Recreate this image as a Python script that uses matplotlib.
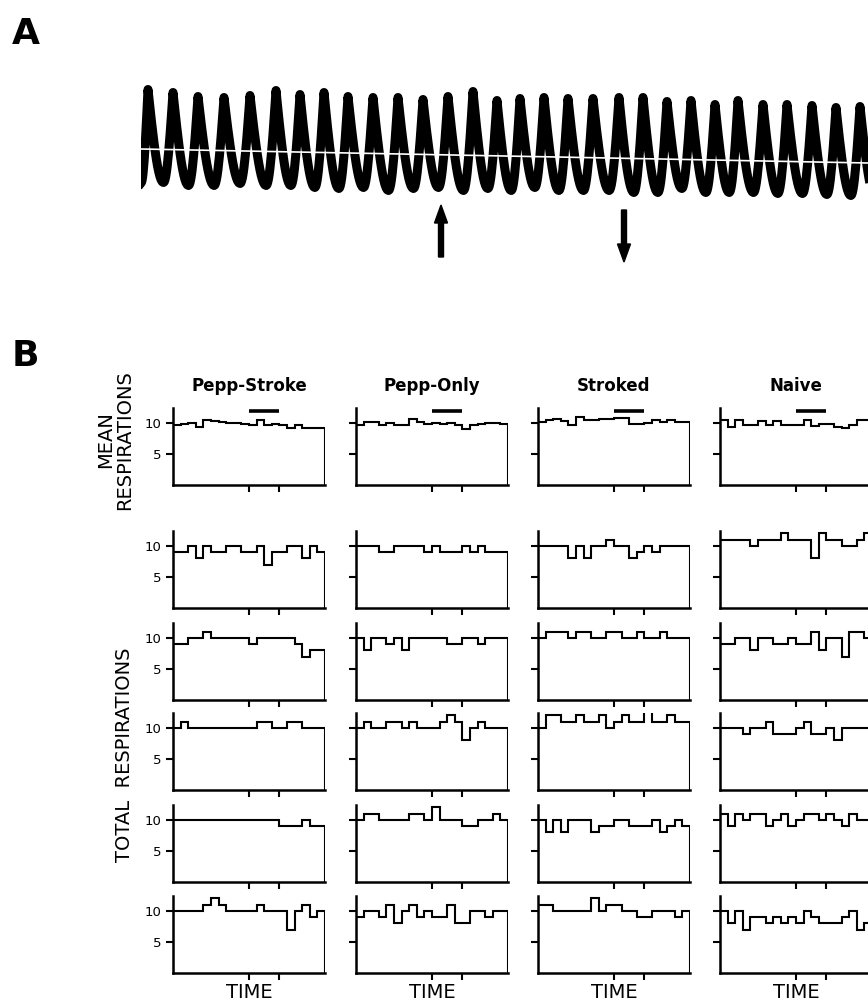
import numpy as np
import matplotlib.pyplot as plt
from matplotlib.patches import FancyArrow

# ---- panel B data: respirations per time bin (20 bins), stimulus in bins 10-14
groups = ['Pepp-Stroke', 'Pepp-Only', 'Stroked', 'Naive']
stim_on, stim_off = 10, 14

pepp_stroke_mean = [9.6, 9.8, 10.0, 9.4, 10.4, 10.3, 10.1, 10.0, 10.0, 9.9,
                    9.7, 10.4, 9.6, 9.8, 9.6, 9.2, 9.7, 9.1, 9.1, 9.1]
pepp_only_mean = [9.7, 10.2, 10.2, 9.6, 10.0, 9.6, 9.6, 10.6, 10.1, 9.8,
                  10.0, 9.8, 10.0, 9.6, 9.0, 9.6, 9.8, 10.0, 10.0, 9.8]
stroked_mean = [10.1, 10.4, 10.7, 10.3, 9.7, 10.9, 10.4, 10.5, 10.6, 10.6,
                10.8, 10.8, 9.8, 9.8, 10.0, 10.4, 10.2, 10.4, 10.1, 10.1]
naive_mean = [10.4, 9.3, 10.4, 9.6, 9.6, 10.3, 9.6, 10.3, 9.6, 9.6,
              9.6, 10.4, 9.5, 9.8, 9.8, 9.4, 9.1, 9.6, 10.4, 10.4]

pepp_stroke_total = [
    [9, 9, 10, 8, 10, 9, 9, 10, 10, 9, 9, 10, 7, 9, 9, 10, 10, 8, 10, 9],
    [9, 9, 10, 10, 11, 10, 10, 10, 10, 10, 9, 10, 10, 10, 10, 10, 9, 7, 8, 8],
    [10, 11, 10, 10, 10, 10, 10, 10, 10, 10, 10, 11, 11, 10, 10, 11, 11, 10, 10, 10],
    [10, 10, 10, 10, 10, 10, 10, 10, 10, 10, 10, 10, 10, 10, 9, 9, 9, 10, 9, 9],
    [10, 10, 10, 10, 11, 12, 11, 10, 10, 10, 10, 11, 10, 10, 10, 7, 10, 11, 9, 10],
]
pepp_only_total = [
    [10, 10, 10, 9, 9, 10, 10, 10, 10, 9, 10, 9, 9, 9, 10, 9, 10, 9, 9, 9],
    [10, 8, 10, 10, 9, 10, 8, 10, 10, 10, 10, 10, 9, 9, 10, 10, 9, 10, 10, 10],
    [10, 11, 10, 10, 11, 11, 10, 11, 10, 10, 10, 11, 12, 11, 8, 10, 11, 10, 10, 10],
    [10, 11, 11, 10, 10, 10, 10, 11, 11, 10, 12, 10, 10, 10, 9, 9, 10, 10, 11, 10],
    [9, 10, 10, 9, 11, 8, 10, 11, 9, 10, 9, 9, 11, 8, 8, 10, 10, 9, 10, 10],
]
stroked_total = [
    [10, 10, 10, 10, 8, 10, 8, 10, 10, 11, 10, 10, 8, 9, 10, 9, 10, 10, 10, 10],
    [10, 11, 11, 11, 10, 11, 11, 10, 10, 11, 11, 10, 10, 11, 10, 10, 11, 10, 10, 10],
    [10, 12, 12, 11, 11, 12, 11, 11, 12, 10, 11, 12, 11, 11, 13, 11, 11, 12, 11, 11],
    [10, 8, 10, 8, 10, 10, 10, 8, 9, 9, 10, 10, 9, 9, 9, 10, 8, 9, 10, 9],
    [11, 11, 10, 10, 10, 10, 10, 12, 10, 11, 11, 10, 10, 9, 9, 10, 10, 10, 9, 10],
]
naive_total = [
    [11, 11, 11, 11, 10, 11, 11, 11, 12, 11, 11, 11, 8, 12, 11, 11, 10, 10, 11, 12],
    [9, 9, 10, 10, 8, 10, 10, 9, 9, 10, 9, 9, 11, 8, 10, 10, 7, 11, 11, 10],
    [10, 10, 10, 9, 10, 10, 11, 9, 9, 9, 10, 11, 9, 9, 10, 8, 10, 10, 10, 10],
    [11, 9, 11, 10, 11, 11, 9, 10, 11, 9, 10, 11, 11, 10, 11, 10, 9, 11, 10, 10],
    [10, 8, 10, 7, 9, 9, 8, 9, 8, 9, 8, 10, 9, 8, 8, 8, 9, 10, 7, 8],
]

mean_cols = [pepp_stroke_mean, pepp_only_mean, stroked_mean, naive_mean]
total_cols = [pepp_stroke_total, pepp_only_total, stroked_total, naive_total]

# ---- panel A data: respiration trace (time and level in trace units)
peak_t = [7, 32, 57, 83, 109, 135, 159, 183, 207, 232, 257, 282, 307, 332, 356,
          379, 403, 427, 452, 478, 502, 526, 550, 574, 597, 622, 646, 671, 695, 719]
peak_level = [115, 112, 108, 107, 109, 114, 110, 112, 108, 107, 107, 105, 108, 113, 104,
              106, 107, 106, 106, 107, 107, 103, 104, 100, 104, 100, 100, 99, 97, 98]
trough_level = [13, 10, 10, 12, 10, 10, 8, 7, 8, 5, 7, 8, 5, 7, 5,
                8, 5, 5, 5, 3, 3, 7, 3, 3, 3, 2, 2, 1, 0, 0]
start_level = 17
baseline_level = [51, 37]
arrow_up_t, arrow_down_t = 300, 483

W, H = 868, 1002
fig = plt.figure(figsize=(W / 100, H / 100), dpi=100)


def box(left, top, width, height):
    return [left / W, 1 - (top + height) / H, width / W, height / H]


# ---------- panel A
axA = fig.add_axes(box(141, 70, 727, 205))
axA.set_xlim(0, 727)
axA.set_ylim(-75, 130)
axA.axis('off')

half = 4.5
ts, ys = [0.0], [float(start_level)]
for i in range(len(peak_t)):
    t0, y0 = ts[-1], ys[-1]
    t1, y1 = peak_t[i], peak_level[i] - half
    s = np.linspace(0, 1, 14)[1:]
    ts += list(t0 + (t1 - t0) * s)
    ys += list(y0 + (y1 - y0) * (1 - np.cos(np.pi * s / 2)))
    if i + 1 < len(peak_t):
        t2 = peak_t[i] + 0.62 * (peak_t[i + 1] - peak_t[i])
    else:
        t2 = peak_t[i] + 15
    y2 = trough_level[i] + half
    ts += list(t1 + (t2 - t1) * s)
    ys += list(y1 + (y2 - y1) * np.sin(np.pi * s / 2))
axA.plot(ts, ys, color='k', lw=6.5, solid_joinstyle='round')
axA.plot([0, 727], baseline_level, color='white', lw=1.2)

axA.add_patch(FancyArrow(arrow_up_t, -57, 0, 52, width=5, head_width=13,
                         head_length=18, length_includes_head=True, color='k'))
axA.add_patch(FancyArrow(arrow_down_t, -10, 0, -52, width=5, head_width=13,
                         head_length=18, length_includes_head=True, color='k'))

fig.text(12 / W, 1 - 44 / H, 'A', fontsize=26, fontweight='bold', va='baseline')
fig.text(12 / W, 1 - 366 / H, 'B', fontsize=26, fontweight='bold', va='baseline')

# ---------- panel B
col_left = [173, 356, 538, 720]
row_top = [408, 531, 623, 713, 805, 896]
ax_w, ax_h = 152, 77
edges = np.arange(len(pepp_stroke_mean) + 1)

for c in range(4):
    series = [mean_cols[c]] + total_cols[c]
    for r in range(6):
        ax = fig.add_axes(box(col_left[c], row_top[r], ax_w, ax_h))
        ax.stairs(series[r], edges, baseline=0, color='k', lw=1.5)
        ax.set_xlim(0, 20)
        ax.set_ylim(0, 12.4)
        for side in ['top', 'right']:
            ax.spines[side].set_visible(False)
        for side in ['left', 'bottom']:
            ax.spines[side].set_linewidth(1.8)
        ax.set_xticks([stim_on, stim_off])
        ax.set_xticklabels([])
        ax.set_yticks([5, 10])
        ax.tick_params(direction='out', length=5, width=1.5, pad=3, labelsize=9.5)
        if c > 0:
            ax.set_yticklabels([])
        if r == 0:
            ax.plot([stim_on, stim_off], [11.9, 11.9], color='k', lw=2.6,
                    solid_capstyle='butt', clip_on=False)
    cx = (col_left[c] + ax_w / 2) / W
    fig.text(cx, 1 - 391 / H, groups[c], ha='center', va='baseline',
             fontsize=12, fontweight='bold')
    fig.text(cx, 1 - 998 / H, 'TIME', ha='center', va='baseline', fontsize=14)

fig.text(115 / W, 1 - 440 / H, 'MEAN\nRESPIRATIONS', rotation=90, ha='center',
         va='center', fontsize=14, linespacing=0.95, multialignment='center')
fig.text(124 / W, 1 - 755 / H, 'TOTAL  RESPIRATIONS', rotation=90, ha='center',
         va='center', fontsize=14)

fig.savefig('out.png', dpi=100)
